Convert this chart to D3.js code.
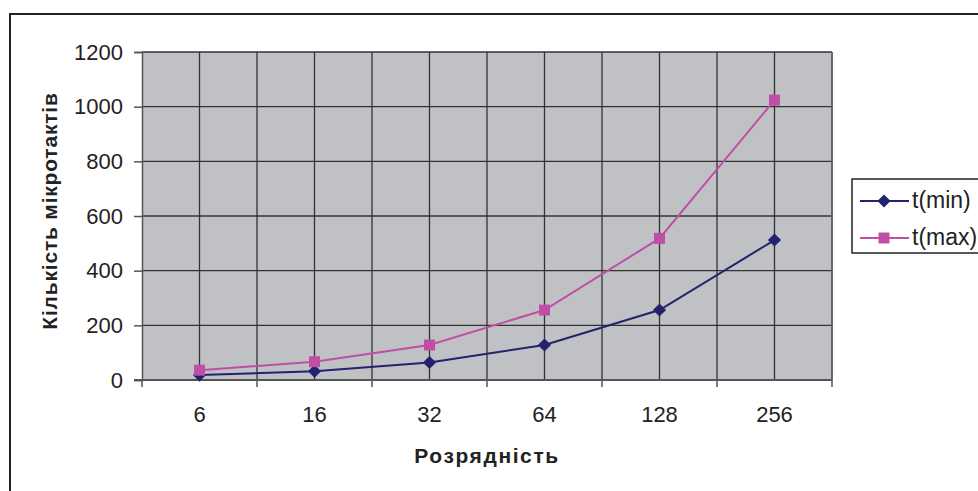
<!DOCTYPE html>
<html><head><meta charset="utf-8">
<script src="https://cdn.jsdelivr.net/npm/d3@7"></script>
<style>body{margin:0;background:#fff}svg{display:block}text{font-family:"Liberation Sans",Arial,sans-serif;fill:#222}</style>
</head><body>
<script>
const categories = ["6","16","32","64","128","256"];
const tMin = [18, 32, 64, 128, 256, 512];
const tMax = [36, 67, 128, 256, 518, 1024];
const yTicks = [0,200,400,600,800,1000,1200];
const seriesNames = ["t(min)","t(max)"];
const colors = ["#22226e","#c04ea6"];

const W=978,H=491;
const svg=d3.select("body").append("svg").attr("width",W).attr("height",H);
const L=142,T=52,R=832,B=380;
svg.append("rect").attr("x",10).attr("y",14).attr("width",990).attr("height",500).attr("fill","#fff").attr("stroke","#222").attr("stroke-width",2);

const x=d3.scaleBand().domain(categories).range([L,R]).padding(0);
const y=d3.scaleLinear().domain([0,1200]).range([B,T]);

svg.append("rect").attr("x",L).attr("y",T).attr("width",R-L).attr("height",B-T).attr("fill","#c0c1c5");
svg.append("g").selectAll("line").data(yTicks.slice(1)).join("line")
 .attr("x1",L).attr("x2",R).attr("y1",d=>y(d)).attr("y2",d=>y(d)).attr("stroke","#333").attr("stroke-width",1.3);
const bounds=categories.map(c=>x(c)).concat([R]);
const centers=categories.map(c=>x(c)+x.bandwidth()/2);
svg.append("g").selectAll("line").data(bounds.slice(1).concat(centers)).join("line")
 .attr("x1",d=>d).attr("x2",d=>d).attr("y1",T).attr("y2",B).attr("stroke","#333").attr("stroke-width",1.3);
svg.append("line").attr("x1",R).attr("x2",R).attr("y1",T).attr("y2",B).attr("stroke","#666").attr("stroke-width",1.5);
const ya=svg.append("g").attr("transform",`translate(${L},0)`).call(d3.axisLeft(y).tickValues(yTicks).tickFormat(d3.format("d")).tickSize(8).tickPadding(11));
ya.select(".domain").attr("stroke","#555").attr("stroke-width",1.5);
ya.selectAll(".tick line").attr("stroke","#555").attr("stroke-width",1.5);
ya.selectAll("text").style("font-size","22px").attr("fill","#222").attr("font-family","Liberation Sans, Arial");
svg.append("line").attr("x1",L-8).attr("x2",R).attr("y1",B).attr("y2",B).attr("stroke","#555").attr("stroke-width",2);
svg.append("g").selectAll("line").data(bounds).join("line")
 .attr("x1",d=>d).attr("x2",d=>d).attr("y1",B).attr("y2",B+7).attr("stroke","#555").attr("stroke-width",1.5);
svg.append("g").selectAll("text").data(categories).join("text")
 .attr("x",d=>x(d)+x.bandwidth()/2).attr("y",B+42).attr("text-anchor","middle").style("font-size","22px").text(d=>d);

svg.append("text").attr("x",487).attr("y",463).attr("text-anchor","middle").style("font-size","21px").style("font-weight","bold").style("letter-spacing","1.6px").text("Розрядність");
svg.append("text").attr("transform","translate(57,211) rotate(-90)").attr("text-anchor","middle").style("font-size","21px").style("font-weight","bold").style("letter-spacing","0.8px").text("Кількість мікротактів");

const series=[tMin,tMax];
const line=d3.line().x((d,i)=>x(categories[i])+x.bandwidth()/2).y(d=>y(d));
series.forEach((s,k)=>{
  svg.append("path").datum(s).attr("d",line).attr("fill","none").attr("stroke",colors[k]).attr("stroke-width",2);
});
const sym=[d3.symbol().type(d3.symbolDiamond2).size(110), d3.symbol().type(d3.symbolSquare).size(120)];
series.forEach((s,k)=>{
  svg.append("g").selectAll("path").data(s).join("path")
   .attr("transform",(d,i)=>`translate(${x(categories[i])+x.bandwidth()/2},${y(d)})`)
   .attr("d",sym[k]).attr("fill",colors[k]);
});

svg.append("rect").attr("x",852).attr("y",179).attr("width",140).attr("height",74).attr("fill","#fff").attr("stroke","#222").attr("stroke-width",1.5);
seriesNames.forEach((n,k)=>{
  const yy=[201,238][k];
  svg.append("line").attr("x1",860).attr("x2",909).attr("y1",yy).attr("y2",yy).attr("stroke",colors[k]).attr("stroke-width",2);
  svg.append("path").attr("transform",`translate(884,${yy})`).attr("d",sym[k]).attr("fill",colors[k]);
  svg.append("text").attr("x",912).attr("y",yy+7).style("font-size","23px").text(n);
});
</script>
</body></html>
